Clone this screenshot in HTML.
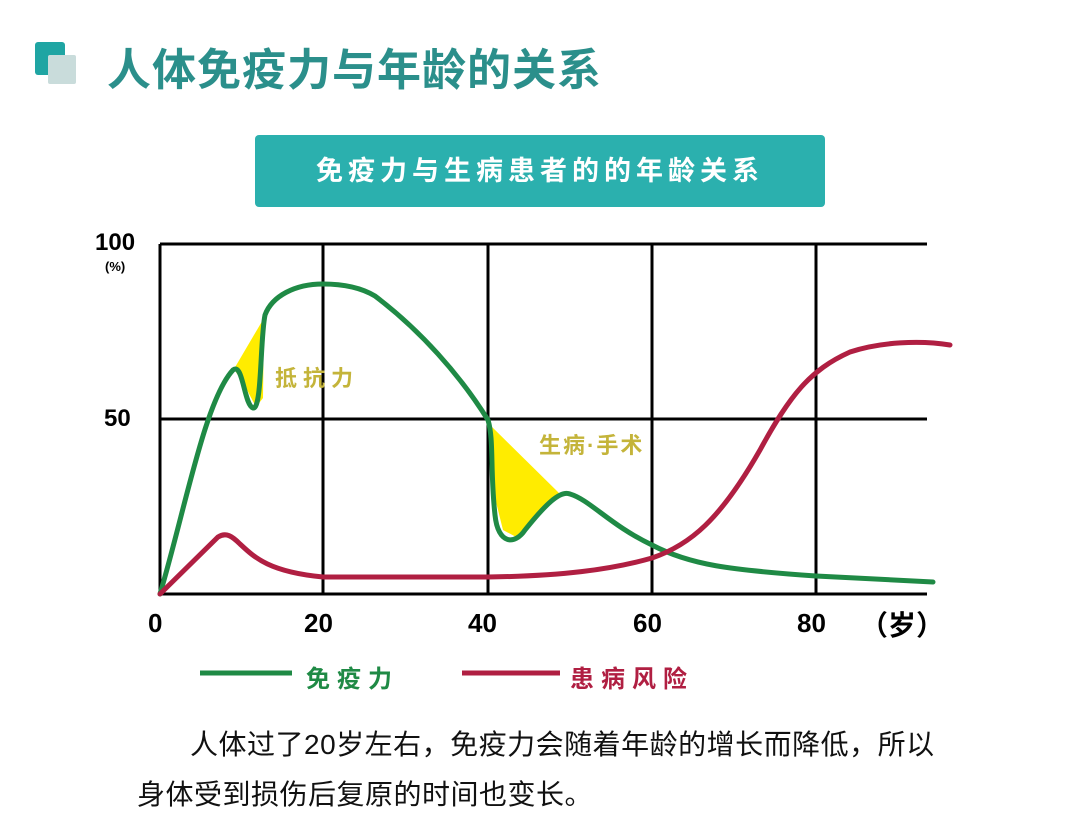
<!DOCTYPE html>
<html><head><meta charset="utf-8"><style>
body{margin:0;width:1079px;height:838px;background:#fff;overflow:hidden;font-family:"Liberation Sans","Noto Sans CJK SC",sans-serif;position:relative}
.a{position:absolute;white-space:nowrap}
</style></head><body>
<div class="a" style="left:35px;top:42px;width:30px;height:33px;background:#1fa5a3;border-radius:3px"></div>
<div class="a" style="left:48px;top:55px;width:28px;height:29px;background:#c9dcdb;border-radius:2px"></div>
<div class="a" style="left:107px;top:34px;font-size:44px;font-weight:bold;color:#2b8f8b;letter-spacing:1px">人体免疫力与年龄的关系</div>
<div class="a" style="left:255px;top:135px;width:570px;height:72px;background:#2bb0ae;border-radius:4px;color:#fff;font-size:27px;font-weight:bold;text-align:center;line-height:72px;letter-spacing:5px">免疫力与生病患者的的年龄关系</div>
<svg class="a" style="left:0;top:0" width="1079" height="838">
<g stroke="#000" stroke-width="3" fill="none">
<line x1="160" y1="244" x2="927" y2="244"/><line x1="160" y1="419" x2="927" y2="419"/><line x1="160" y1="594" x2="927" y2="594"/>
<line x1="160" y1="244" x2="160" y2="595"/><line x1="323" y1="244" x2="323" y2="595"/><line x1="488" y1="244" x2="488" y2="595"/><line x1="652" y1="244" x2="652" y2="595"/><line x1="816" y1="244" x2="816" y2="595"/>
</g>
<polygon fill="#ffec00" points="234,369 264,318 263,398 256,407 246,388"/>
<polygon fill="#ffec00" points="489,424 560,494 540,510 518,538 503,530 493,490"/>
<path d="M160,594 C185,510 205,400 233,370 C243,362 244,405 253,408 C262,410 260,340 265,315 C272,296 295,284 323,284 C350,284 365,290 375,296 C420,330 460,375 488,420 C494,440 490,470 495,515 C498,545 515,545 525,530 C545,505 560,490 570,494 C590,500 610,525 652,545 C690,565 730,570 816,576 C860,578 900,580 933,582" fill="none" stroke="#1f8a45" stroke-width="5" stroke-linecap="round"/>
<path d="M160,594 L218,537 C226,532 232,536 240,544 C255,558 270,572 323,577 L488,577 C560,576 610,570 652,558 C690,545 720,520 760,450 C790,395 810,370 850,352 C880,342 920,340 950,345" fill="none" stroke="#b01f42" stroke-width="5" stroke-linecap="round"/>
<line x1="200" y1="673" x2="292" y2="673" stroke="#1f8a45" stroke-width="5"/>
<line x1="462" y1="673" x2="560" y2="673" stroke="#b01f42" stroke-width="5"/>
</svg>
<div class="a" style="left:95px;top:229px;font-size:24px;font-weight:bold">100</div>
<div class="a" style="left:105px;top:259px;font-size:13px;font-weight:bold">(%)</div>
<div class="a" style="left:104px;top:405px;font-size:24px;font-weight:bold">50</div>
<div class="a" style="left:148px;top:608px;font-size:26px;font-weight:bold">0</div>
<div class="a" style="left:304px;top:608px;font-size:26px;font-weight:bold">20</div>
<div class="a" style="left:468px;top:608px;font-size:26px;font-weight:bold">40</div>
<div class="a" style="left:633px;top:608px;font-size:26px;font-weight:bold">60</div>
<div class="a" style="left:797px;top:608px;font-size:26px;font-weight:bold">80</div>
<div class="a" style="left:860px;top:604px;font-size:28px;font-weight:bold">（岁）</div>
<div class="a" style="left:275px;top:361px;font-size:22px;font-weight:bold;color:#c4b43a;letter-spacing:6px">抵抗力</div>
<div class="a" style="left:539px;top:428px;font-size:22px;font-weight:bold;color:#c4b43a;letter-spacing:2px">生病·手术</div>
<div class="a" style="left:306px;top:659px;font-size:24px;font-weight:bold;color:#1f8a45;letter-spacing:7px">免疫力</div>
<div class="a" style="left:570px;top:659px;font-size:24px;font-weight:bold;color:#b01f42;letter-spacing:7px">患病风险</div>
<div class="a" style="left:190px;top:723px;font-size:28px;color:#111;letter-spacing:0.5px">人体过了20岁左右，免疫力会随着年龄的增长而降低，所以</div>
<div class="a" style="left:137px;top:773px;font-size:28px;color:#111;letter-spacing:0.5px">身体受到损伤后复原的时间也变长。</div>
</body></html>
